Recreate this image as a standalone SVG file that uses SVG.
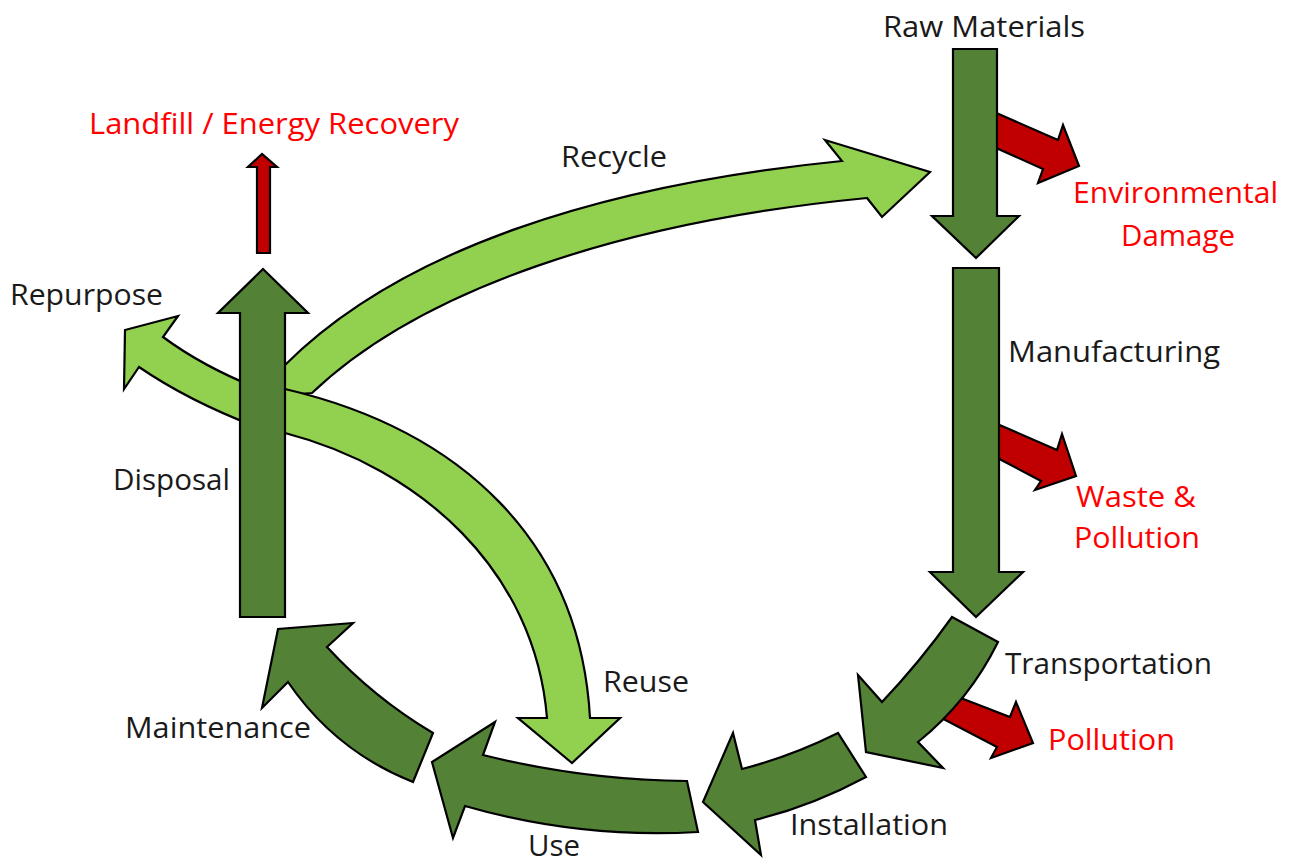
<svg xmlns="http://www.w3.org/2000/svg" width="1293" height="863" viewBox="0 0 1293 863">
<style>
.dk{fill:#538135;stroke:#000;stroke-width:2.2;stroke-linejoin:miter}
.lt{fill:#92D050;stroke:#000;stroke-width:2.2;stroke-linejoin:miter}
.rd{fill:#C00000;stroke:#000;stroke-width:2.2;stroke-linejoin:miter}
.t{font-family:"Open Sans","Noto Sans","Liberation Sans",sans-serif;font-size:29px;fill:#1a1a1a}
.r{fill:#FF0000}
</style>
<rect width="1293" height="863" fill="#fff"/>
<g id="connectors">
  <path class="rd" d="M985,108 L1058,140 L1063,125 L1079,166 L1038,183 L1043,169 L985,143 Z"/>
  <path class="rd" d="M988,420 L1057,450 L1062,434 L1076,476 L1035,490 L1041,481 L988,453 Z"/>
  <path class="rd" d="M940,690 L1010,717 L1016,702 L1033,743 L991,758 L997,747 L930,712 Z"/>
  <path id="arrow-raw" class="dk" d="M953,49 L997,49 L997,216 L1019,216 L976,258 L932,216 L953,216 Z"/>
  <path id="arrow-manufacturing" class="dk" d="M953,268 L999,268 L999,572 L1023,572 L976,617 L930,572 L953,572 Z"/>
  <path id="arrow-transportation" class="dk" d="M952,617 Q920,662 882,702 L858,675 L866,752 L943,768 L918,742 Q969,701 998,642 Z"/>
  <path id="arrow-installation" class="dk" d="M838,733 Q792,756 742,769 L733,733 L703,802 L761,855 L755,820 Q812,806 866,777 Z"/>
  <path id="arrow-use" class="dk" d="M687,781 Q583,780 483,755 L495,722 L432,762 L453,838 L465,806 Q579,839 698,832 Z"/>
  <path id="arrow-maintenance" class="dk" d="M433,733 Q374,698 327,647 L353,623 L278,629 L262,708 L288,682 Q335,751 413,782 Z"/>
  <path id="arrow-recycle" class="lt" d="M262,396 L262,385 L285,365 C400,250 600,185 842,161 L825,140 L930,172 L882,217 L867,198 C620,222 420,290 312,393 L285,395 Z"/>
  <path id="arrow-repurpose" class="lt" d="M262,390 Q205,368 163,337 L178,316 L125,330 L124,389 L139,367 Q190,402 262,429 Z"/>
  <path id="arrow-reuse" class="lt" d="M258,384 L285,389 C460,430 580,540 590,718 L620,718 L572,763 L518,718 L547,718 C535,570 420,468 285,433 L258,428 Z"/>
  <path id="arrow-disposal" class="dk" d="M240,617 L285,617 L285,313 L308,313 L263,269 L218,313 L240,313 Z"/>
  <path id="arrow-landfill" class="rd" d="M257,253 L270,253 L270,167 L277,167 L262,154 L248,167 L257,167 Z"/>
</g>
<g id="node-raw-materials"><text class="t" x="883" y="37" textLength="202" lengthAdjust="spacingAndGlyphs">Raw Materials</text></g>
<g id="node-environmental-damage">
  <text class="t r" x="1073" y="203" textLength="205" lengthAdjust="spacingAndGlyphs">Environmental</text>
  <text class="t r" x="1121" y="246" textLength="114" lengthAdjust="spacingAndGlyphs">Damage</text>
</g>
<g id="node-manufacturing"><text class="t" x="1008" y="362" textLength="212" lengthAdjust="spacingAndGlyphs">Manufacturing</text></g>
<g id="node-waste-pollution">
  <text class="t r" x="1076" y="507" textLength="120" lengthAdjust="spacingAndGlyphs">Waste &amp;</text>
  <text class="t r" x="1074" y="548" textLength="126" lengthAdjust="spacingAndGlyphs">Pollution</text>
</g>
<g id="node-transportation"><text class="t" x="1005" y="674" textLength="207" lengthAdjust="spacingAndGlyphs">Transportation</text></g>
<g id="node-pollution"><text class="t r" x="1048" y="750" textLength="127" lengthAdjust="spacingAndGlyphs">Pollution</text></g>
<g id="node-installation"><text class="t" x="790" y="835" textLength="158" lengthAdjust="spacingAndGlyphs">Installation</text></g>
<g id="node-use"><text class="t" x="528" y="856" textLength="52" lengthAdjust="spacingAndGlyphs">Use</text></g>
<g id="node-maintenance"><text class="t" x="125" y="738" textLength="186" lengthAdjust="spacingAndGlyphs">Maintenance</text></g>
<g id="node-reuse"><text class="t" x="603" y="692" textLength="86" lengthAdjust="spacingAndGlyphs">Reuse</text></g>
<g id="node-disposal"><text class="t" x="113" y="490" textLength="117" lengthAdjust="spacingAndGlyphs">Disposal</text></g>
<g id="node-repurpose"><text class="t" x="10" y="305" textLength="153" lengthAdjust="spacingAndGlyphs">Repurpose</text></g>
<g id="node-recycle"><text class="t" x="561" y="167" textLength="106" lengthAdjust="spacingAndGlyphs">Recycle</text></g>
<g id="node-landfill"><text class="t r" x="89" y="134" textLength="370" lengthAdjust="spacingAndGlyphs">Landfill / Energy Recovery</text></g>
</svg>
